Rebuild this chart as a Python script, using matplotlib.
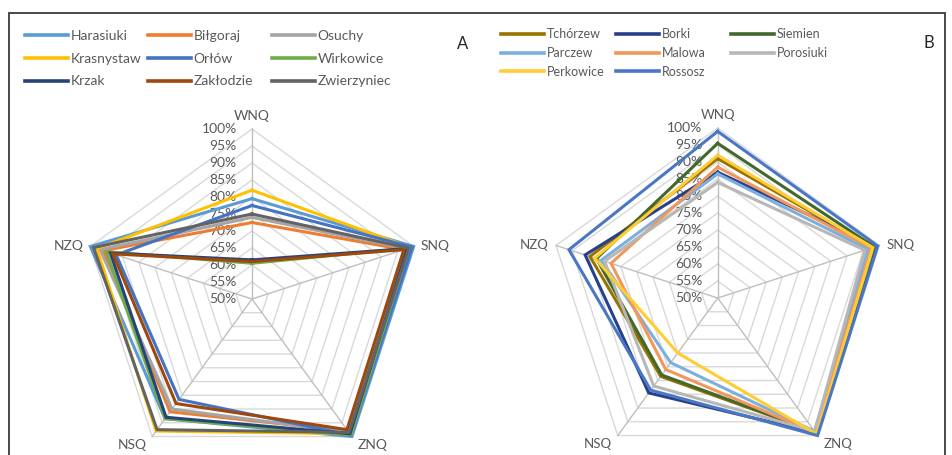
import numpy as np
import matplotlib
matplotlib.use("Agg")
import matplotlib.pyplot as plt
from matplotlib.patches import Rectangle

plt.rcParams['font.family'] = ['Lato', 'DejaVu Sans']

# ---------------- data ----------------
axis_labels = ['WNQ', 'SNQ', 'ZNQ', 'NSQ', 'NZQ']
tick_values = [50, 55, 60, 65, 70, 75, 80, 85, 90, 95, 100]
tick_labels = ['50%', '55%', '60%', '65%', '70%', '75%', '80%', '85%', '90%', '95%', '100%']

# Panel A (order: WNQ, SNQ, ZNQ, NSQ, NZQ)
names_a = ['Harasiuki', 'Biłgoraj', 'Osuchy', 'Krasnystaw', 'Orłów',
           'Wirkowice', 'Krzak', 'Zakłodzie', 'Zwierzyniec']
harasiuki = [79.5, 100, 100, 93.5, 100]
bilgoraj = [72.5, 97, 98, 91, 96]
osuchy = [74, 98, 98.5, 90, 97]
krasnystaw = [82, 99, 99, 98, 98]
orlow = [77.5, 99.5, 99.5, 86.5, 92]
wirkowice = [60.5, 98.5, 99.5, 93.5, 95]
krzak = [61.5, 98, 99, 93, 93.8]
zakłodzie = [61, 97, 97.5, 88, 93]
zwierzyniec = [75, 98.5, 98.5, 97.5, 99]
colors_a = ['#5B9BD5', '#ED7D31', '#A5A5A5', '#FFC000', '#4472C4',
            '#70AD47', '#264478', '#9E480E', '#636363']

# Panel B
names_b = ['Tchórzew', 'Borki', 'Siemien', 'Parczew', 'Malowa',
           'Porosiuki', 'Perkowice', 'Rossosz']
tchorzew = [91, 98, 98.5, 78.5, 89.5]
borki = [87, 99, 99, 84.5, 91]
siemien = [95.5, 98.5, 98.5, 78, 87.5]
parczew = [86.5, 96.5, 98.5, 73.5, 86]
malowa = [88.5, 97.5, 99, 76, 83]
porosiuki = [84, 95.5, 98.5, 82, 85]
perkowice = [92, 98, 99.5, 70, 88]
rossosz = [99, 99.5, 100, 83.5, 96]
colors_b = ['#997300', '#26408B', '#43682B', '#7CAFDD', '#F1975A',
            '#B7B7B7', '#FFCD33', '#4A76C6']

series_a = [harasiuki, bilgoraj, osuchy, krasnystaw, orlow,
            wirkowice, krzak, zakłodzie, zwierzyniec]
series_b = [tchorzew, borki, siemien, parczew, malowa,
            porosiuki, perkowice, rossosz]

W, H = 952, 455
fig = plt.figure(figsize=(W / 100, H / 100), dpi=100)
fig.patch.set_facecolor('white')

TXT = '#595959'
theta = np.deg2rad(np.arange(5) * 72)
closed_theta = np.append(theta, theta[0])


def make_radar(cx, cy, R, names, series, colors, lab_fs):
    ax = fig.add_axes([(cx - R) / W, (H - cy - R) / H, 2 * R / W, 2 * R / H],
                      projection='polar')
    ax.set_theta_zero_location('N')
    ax.set_theta_direction(-1)
    ax.set_ylim(50, 100)
    ax.grid(False)
    ax.spines['polar'].set_visible(False)
    ax.set_xticks([])
    ax.set_yticks([])
    ax.patch.set_visible(False)
    # pentagon grid
    for lv in tick_values[1:]:
        ax.plot(closed_theta, [lv] * 6, color='#D9D9D9', lw=1.0, zorder=1,
                clip_on=False)
    for t in theta:
        ax.plot([t, t], [50, 100], color='#BFBFBF', lw=1.0, zorder=1.1,
                clip_on=False)
    # tick labels
    for lv, tl in zip(tick_values, tick_labels):
        ax.annotate(tl, xy=(0, lv), xytext=(-11, 0), textcoords='offset points',
                    ha='right', va='center', fontsize=10, color=TXT,
                    zorder=1.5, annotation_clip=False)
    # axis labels
    offs = [((0, 5), 'center', 'bottom'),
            ((5, 0), 'left', 'center'),
            ((4, -2), 'left', 'top'),
            ((-4, -2), 'right', 'top'),
            ((-5, 0), 'right', 'center')]
    for t, lab, (o, ha, va) in zip(theta, axis_labels, offs):
        ax.annotate(lab, xy=(t, 100), xytext=o, textcoords='offset points',
                    ha=ha, va=va, fontsize=lab_fs, color=TXT,
                    annotation_clip=False)
    lines = []
    for i, (vals, c) in enumerate(zip(series, colors)):
        ln, = ax.plot(closed_theta, list(vals) + [vals[0]], color=c, lw=2.2,
                      zorder=2 + i * 0.01, clip_on=False,
                      solid_joinstyle='miter')
        lines.append(ln)
    return ax, lines


ax_a, lines_a = make_radar(252, 299, 170, names_a, series_a, colors_a, 10)
ax_b, lines_b = make_radar(717.7, 298, 170, names_b, series_b, colors_b, 9.5)


def add_legend(lines, names, xs, y_top, fs, spacing):
    ncol = len(xs)
    for c, x in enumerate(xs):
        idx = list(range(c, len(lines), ncol))
        leg = fig.legend([lines[i] for i in idx], [names[i] for i in idx],
                         loc='upper left', bbox_to_anchor=(x / W, 1 - y_top / H),
                         frameon=False, borderpad=0, borderaxespad=0,
                         handlelength=3.1 * 10 / fs, handletextpad=0.2,
                         labelspacing=spacing, fontsize=fs, labelcolor=TXT)
        for h in leg.get_lines():
            h.set_linewidth(2.6)


add_legend(lines_a, names_a, [25, 148, 272], 30, 10, 0.77)
add_legend(lines_b, names_b, [501, 616, 731], 28, 9, 0.55)

fig.text(463 / W, 1 - 44 / H, 'A', fontsize=12, color='#262626',
         ha='center', va='center')
fig.text(929 / W, 1 - 43 / H, 'B', fontsize=12, color='#262626',
         ha='center', va='center')

# outer frame
fig.patches.append(Rectangle((9 / W, -0.02), (945 - 9) / W, 1 - 13 / H + 0.02,
                             transform=fig.transFigure, fill=False,
                             lw=1.3, ec='#3A3A3A'))

fig.savefig('out.png', dpi=100, facecolor='white')
